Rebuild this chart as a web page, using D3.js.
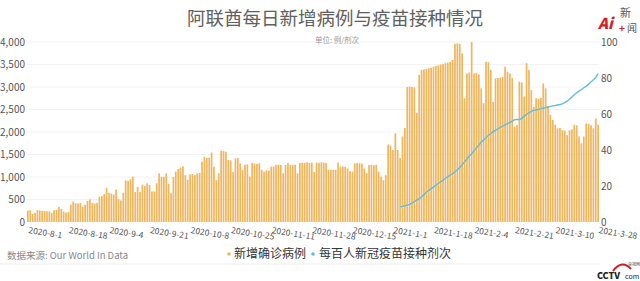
<!DOCTYPE html>
<html><head><meta charset="utf-8">
<script src="https://cdn.jsdelivr.net/npm/d3@7"></script>
<style>
html,body{margin:0;padding:0;background:#fff;}
svg{display:block;}
text{font-family:"Noto Sans CJK SC","Noto Sans",sans-serif;}
</style></head>
<body>
<svg id="chart" width="640" height="281"></svg>
<script>
// ---- data ----
const startDay = "2020-8-1";
const endDay = "2021-3-28";
const newCases = [
 254,262,180,205,262,258,250,245,240,235,
 200,262,270,335,290,232,210,220,385,455,
 420,410,425,340,385,470,500,425,410,425,
 565,575,620,760,650,630,610,720,505,480,
 650,925,915,950,1010,665,780,665,830,800,
 860,820,680,680,860,1080,1000,1000,1080,850,
 640,1000,1120,1180,1210,1240,1040,940,1060,1065,
 1045,1080,1090,1340,1450,1420,1430,1545,1230,930,
 1080,1580,1575,1560,1380,1370,1110,1410,1420,1300,
 1160,1270,1280,1010,1310,1300,1290,1305,1160,1120,
 1150,1140,1230,1235,1270,1275,1270,1080,1270,1310,
 1270,1265,1275,1080,1310,1320,1315,1325,1310,1320,
 1110,1320,1315,1325,1320,1310,1160,1165,1160,1155,
 1320,1230,1235,1225,1190,1130,1120,1300,1310,1305,
 1300,1190,1085,1265,1270,1260,1270,1120,1010,930,
 1040,1720,1700,1600,1970,1600,1420,1900,2090,3000,
 3010,3000,2990,2420,3270,3380,3390,3400,3420,3430,
 3450,3470,3480,3500,3510,3530,3540,3560,3600,3960,
 3970,3960,3750,2750,3300,3320,4000,3300,3310,3280,
 2970,2640,3560,3550,3380,2670,3190,3200,3210,3220,
 3450,3340,3300,3200,2120,2150,3120,3100,2790,3530,
 3380,2930,2560,2750,2740,2760,3080,2970,2560,2380,
 2270,2160,2080,2090,2040,2030,1930,2040,2060,2160,
 2150,1900,1750,1900,2190,2180,2150,2080,2300,2160
];
const vaccineStartDay = "2021-1-4";
const vaccinePer100 = [
 8.5,8.7,9.0,9.4,9.8,10.5,11.3,12.2,13.0,14.0,
 15.2,16.5,17.6,18.5,19.4,20.4,21.4,22.3,23.2,24.3,
 25.2,26.0,26.8,27.9,29.0,30.3,31.8,33.4,35.0,36.5,
 38.0,39.6,41.2,42.8,44.3,45.5,46.8,48.0,49.2,50.1,
 51.0,51.8,52.6,53.3,54.0,54.7,55.4,56.0,56.8,57.0,
 56.9,57.6,58.8,59.8,60.7,61.5,62.0,62.2,62.6,63.0,
 63.3,63.6,63.9,64.2,64.5,64.7,65.0,65.3,65.6,66.3,
 67.1,68.2,69.5,70.7,71.8,72.7,73.6,74.6,75.5,76.6,
 77.8,79.0,80.3,82.4
];
const xTickLabels = ["2020-8-1","2020-8-18","2020-9-4","2020-9-21","2020-10-8","2020-10-25","2020-11-11","2020-11-28","2020-12-15","2021-1-1","2021-1-18","2021-2-4","2021-2-21","2021-3-10","2021-3-28"];
const leftTicks = [0,500,1000,1500,2000,2500,3000,3500,4000];
const rightTicks = [0,20,40,60,80,100];
const seriesNames = ["新增确诊病例","每百人新冠疫苗接种剂次"];
const titleText = "阿联酋每日新增病例与疫苗接种情况";
const unitText = "单位: 例/剂次";
const sourceText = "数据来源: Our World In Data";

// ---- build categories ----
const parse = d3.timeParse("%Y-%m-%d");
const fmt = d => `${d.getFullYear()}-${d.getMonth()+1}-${d.getDate()}`;
const days = d3.timeDay.range(parse("2020-08-01"), d3.timeDay.offset(parse("2021-03-28"),1)).map(fmt);
const vStartIdx = days.indexOf(vaccineStartDay);
const vaccineData = vaccinePer100.map((v,i)=>({day:days[vStartIdx+i], v}));

const svg = d3.select("#chart");
const barColor = "#F0B65E", lineColor = "#62BCDB";

const x = d3.scaleBand().domain(days).range([27, 599]).paddingInner(0.28).paddingOuter(0);
const yL = d3.scaleLinear().domain([0,4000]).range([222,42]);
const yR = d3.scaleLinear().domain([0,100]).range([222,42]);

// gridlines
svg.append("g").selectAll("line").data(leftTicks.slice(1)).join("line")
  .attr("x1",27).attr("x2",599).attr("y1",d=>yL(d)).attr("y2",d=>yL(d))
  .attr("stroke","#f2f2f2").attr("stroke-width",1);

// bars
svg.append("g").selectAll("rect").data(newCases).join("rect")
  .attr("x",(d,i)=>x(days[i])).attr("width",x.bandwidth())
  .attr("y",d=>yL(d)).attr("height",d=>yL(0)-yL(d))
  .attr("fill",barColor);

// line
svg.append("path").datum(vaccineData)
  .attr("d", d3.line().x(d=>x(d.day)+x.bandwidth()/2).y(d=>yR(d.v)))
  .attr("fill","none").attr("stroke",lineColor).attr("stroke-width",1.4);

// left axis
const axL = svg.append("g").attr("transform","translate(27,0)")
  .call(d3.axisLeft(yL).tickValues(leftTicks).tickFormat(d3.format(",")).tickSize(0).tickPadding(2));
axL.select(".domain").remove();
axL.selectAll("text").attr("font-family","'Noto Sans',sans-serif").attr("font-size",10).attr("fill","#555");

// right axis
const axR = svg.append("g").attr("transform","translate(599,0)")
  .call(d3.axisRight(yR).tickValues(rightTicks).tickSize(0).tickPadding(2));
axR.select(".domain").remove();
axR.selectAll("text").attr("font-family","'Noto Sans',sans-serif").attr("font-size",10).attr("fill","#555");

// x axis labels (rotated)
const axX = svg.append("g").attr("transform","translate(0,222)")
  .call(d3.axisBottom(x).tickValues(xTickLabels).tickSize(0).tickFormat(d=>d));
axX.select(".domain").remove();
axX.selectAll(".tick").attr("transform", d=>`translate(${x(d)},0)`);
axX.selectAll("text")
  .attr("font-family","'Noto Sans',sans-serif").attr("font-size",8.5).attr("fill","#555")
  .attr("text-anchor","start").attr("dy",0).attr("y",0)
  .attr("transform","translate(1,11) rotate(9)");

// title & unit
svg.append("text").attr("x",335).attr("y",25).attr("text-anchor","middle")
  .attr("font-size",18.5).attr("fill","#606060").text(titleText);
svg.append("text").attr("x",337).attr("y",43).attr("text-anchor","middle")
  .attr("font-size",7.5).attr("fill","#999").text(unitText);

// legend
const lg = svg.append("g").attr("transform","translate(0,258)");
lg.append("circle").attr("cx",229).attr("cy",-4).attr("r",1.8).attr("fill",barColor);
lg.append("text").attr("x",234).attr("y",0).attr("font-size",12).attr("fill","#333").text(seriesNames[0]);
lg.append("circle").attr("cx",313).attr("cy",-4).attr("r",1.8).attr("fill",lineColor);
lg.append("text").attr("x",319).attr("y",0).attr("font-size",12).attr("fill","#333").text(seriesNames[1]);

// source
svg.append("text").attr("x",7).attr("y",259).attr("font-size",9.5).attr("fill","#888").text(sourceText);
svg.append("line").attr("x1",0).attr("x2",600).attr("y1",264).attr("y2",264).attr("stroke","#ececec");

// logos (approximate, as text)
const lt = svg.append("g");
lt.append("text").attr("x",598).attr("y",29).attr("font-size",15).attr("font-weight",900).attr("font-style","italic").attr("fill","#d4202a").attr("font-family","'DejaVu Sans',sans-serif").text("Ai");
lt.append("text").attr("x",620).attr("y",17).attr("font-size",11).attr("fill","#555").text("新");
lt.append("text").attr("x",619).attr("y",32).attr("font-size",10).attr("font-weight",700).attr("fill","#d4202a").text("+");
lt.append("text").attr("x",627).attr("y",32).attr("font-size",10).attr("fill","#555").text("闻");
const lb = svg.append("g");
lb.append("path").attr("d","M613,271 Q622,259 631,269").attr("fill","none").attr("stroke","#c81e28").attr("stroke-width",2);
lb.append("text").attr("x",597).attr("y",279).attr("font-size",9).attr("font-weight",900).attr("fill","#222").attr("font-family","'DejaVu Sans',sans-serif").text("CCTV");
lb.append("text").attr("x",625).attr("y",279).attr("font-size",7).attr("fill","#222").attr("font-family","'DejaVu Sans',sans-serif").text("com");
lb.append("text").attr("x",628).attr("y",266).attr("font-size",4).attr("fill","#444").text("央视网");
</script>
</body></html>
